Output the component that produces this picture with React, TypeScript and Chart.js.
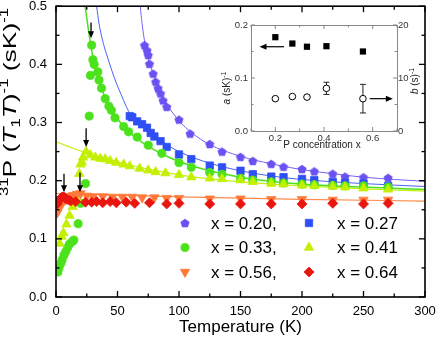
import React, { useEffect, useRef } from 'react';
import { Chart, registerables } from 'chart.js';
import { drawPoint } from 'chart.js/helpers';

Chart.register(...registerables);

const FONT = 'Arial, "Liberation Sans", Helvetica, sans-serif';

// ---------------- data ----------------
// x = 0.20 (pentagons)
const t020 = [72, 74, 75, 76, 79, 81, 83, 85, 87, 90, 100, 109, 125, 135, 150, 160, 175, 185, 200, 210, 225, 235, 250, 270];
const v020 = [0.433, 0.424, 0.416, 0.401, 0.384, 0.370, 0.359, 0.350, 0.338, 0.327, 0.305, 0.281, 0.263, 0.250, 0.241, 0.234, 0.229, 0.224, 0.220, 0.216, 0.212, 0.207, 0.206, 0.205];
// x = 0.27 (squares)
const t027 = [60, 62, 66, 70, 74, 77, 80, 85, 90, 100, 110, 125, 135, 150, 160, 175, 185, 200, 210, 225, 235, 250, 270];
const v027 = [0.311, 0.309, 0.302, 0.297, 0.291, 0.282, 0.276, 0.268, 0.258, 0.245, 0.237, 0.226, 0.223, 0.217, 0.211, 0.207, 0.206, 0.203, 0.201, 0.198, 0.196, 0.195, 0.191];
// x = 0.33 (circles)
const t033 = [1.5, 2.5, 4, 5, 6.5, 8, 9.5, 11, 13, 14.5, 18, 20, 24, 27, 28, 29, 30, 31, 34, 35, 37, 40, 43, 45, 48, 55, 59, 66, 75, 86, 100, 110, 125, 135, 150, 160, 175, 185, 200, 210, 225, 235, 250, 270];
const v033 = [0.043, 0.050, 0.058, 0.064, 0.072, 0.078, 0.085, 0.091, 0.095, 0.098, 0.126, 0.161, 0.195, 0.311, 0.381, 0.433, 0.408, 0.400, 0.387, 0.373, 0.359, 0.341, 0.328, 0.321, 0.308, 0.293, 0.284, 0.275, 0.261, 0.247, 0.231, 0.223, 0.214, 0.211, 0.204, 0.201, 0.198, 0.196, 0.194, 0.193, 0.192, 0.191, 0.191, 0.189];
// x = 0.41 (triangles)
const t041 = [3, 4.5, 6, 8.5, 11, 13.5, 16.5, 19, 20, 21, 22, 24.5, 28, 32, 36, 40, 44, 49, 55, 60, 68, 75, 81, 89, 100, 110, 125, 135, 150, 160, 175, 185, 200, 210, 225, 235, 250, 270];
const v041 = [0.092, 0.104, 0.110, 0.125, 0.140, 0.155, 0.170, 0.212, 0.228, 0.232, 0.240, 0.250, 0.244, 0.240, 0.238, 0.237, 0.234, 0.231, 0.228, 0.225, 0.221, 0.218, 0.215, 0.213, 0.210, 0.206, 0.204, 0.203, 0.201, 0.198, 0.195, 0.194, 0.192, 0.191, 0.190, 0.189, 0.187, 0.185];
// x = 0.56 (down triangles)
const t056 = [1, 2, 3, 4, 5, 6, 8, 10, 12, 14, 17, 20, 25, 30, 38, 46, 54, 62, 70, 80, 90, 100, 125, 150, 175, 200, 225, 250, 270];
const v056 = [0.145, 0.150, 0.155, 0.158, 0.162, 0.165, 0.168, 0.171, 0.173, 0.175, 0.177, 0.178, 0.174, 0.173, 0.173, 0.172, 0.172, 0.172, 0.171, 0.171, 0.170, 0.170, 0.169, 0.169, 0.168, 0.168, 0.167, 0.167, 0.167];
// x = 0.64 (diamonds)
const t064 = [1, 2, 3, 4, 5, 6, 7, 8, 10, 12, 16, 24, 29, 33, 38, 44, 49, 57, 64, 76, 90, 100, 125, 150, 175, 200, 225, 250, 270];
const v064 = [0.160, 0.165, 0.168, 0.170, 0.172, 0.172, 0.171, 0.169, 0.167, 0.165, 0.164, 0.163, 0.163, 0.164, 0.162, 0.164, 0.162, 0.163, 0.161, 0.162, 0.160, 0.161, 0.160, 0.160, 0.160, 0.160, 0.161, 0.160, 0.161];

// fit curves (sampled along the drawn lines)
const fitT020 = [68.5, 70, 72, 75, 80, 85, 90, 100, 110, 125, 150, 175, 200, 225, 250, 275, 300];
const fitV020 = [0.500, 0.470, 0.440, 0.410, 0.378, 0.352, 0.332, 0.303, 0.283, 0.262, 0.242, 0.229, 0.219, 0.212, 0.206, 0.202, 0.199];
const fitT027 = [33, 35, 38, 41, 45, 49, 53, 57, 60, 70, 80, 90, 100, 125, 150, 175, 200, 250, 300];
const fitV027 = [0.500, 0.470, 0.440, 0.418, 0.392, 0.368, 0.348, 0.328, 0.316, 0.294, 0.277, 0.262, 0.250, 0.230, 0.217, 0.208, 0.202, 0.195, 0.190];
const fitT033 = [23.6, 25, 26.5, 28, 30, 33, 36, 40, 45, 50, 60, 70, 80, 90, 100, 125, 150, 175, 200, 250, 300];
const fitV033 = [0.500, 0.480, 0.457, 0.437, 0.412, 0.385, 0.365, 0.343, 0.323, 0.306, 0.283, 0.266, 0.253, 0.242, 0.233, 0.217, 0.206, 0.199, 0.194, 0.189, 0.185];
const fitT041 = [0, 10, 20, 30, 40, 50, 60, 70, 80, 100, 125, 150, 175, 200, 250, 300];
const fitV041 = [0.267, 0.259, 0.251, 0.244, 0.238, 0.232, 0.227, 0.222, 0.218, 0.210, 0.203, 0.198, 0.194, 0.191, 0.186, 0.182];
const fitT056 = [0, 100, 200, 300];
const fitV056 = [0.178, 0.172, 0.168, 0.165];

// arrows marking transitions (T, from value, to value)
const arrowT = [28.5, 24.5, 6.5, 19.5];
const arrowFrom = [0.472, 0.290, 0.212, 0.214];
const arrowTo = [0.445, 0.258, 0.180, 0.180];

// axes
const xTickVals = [0, 50, 100, 150, 200, 250, 300];
const yTickVals = [0, 0.1, 0.2, 0.3, 0.4, 0.5];
const legendLabels = ['x = 0.20,', 'x = 0.27', 'x = 0.33,', 'x = 0.41', 'x = 0.56,', 'x = 0.64'];

// inset
const insetX = [0.20, 0.27, 0.33, 0.41, 0.56];
const insetA = [0.177, 0.165, 0.159, 0.160, 0.150];
const insetB = [6.1, 6.5, 6.4, 8.05, 6.1];
const insetBErr = [0, 0, 0, 1.15, 2.7];
const insetXTicks = [0.2, 0.4, 0.6];
const insetYTicks = [0, 0.1, 0.2];
const insetY2Ticks = [0, 10, 20];

// ---------------- styles ----------------
const C020 = '#6a52f2';
const C027 = '#2f4ff5';
const C033 = '#4be21c';
const C041 = '#c3ef00';
const C056 = '#ff7a3a';
const C064 = '#e8160f';

type Part = { t: string; k: 'n' | 'i' | 'sup' | 'sub' };

function drawRich(ctx: CanvasRenderingContext2D, parts: Part[], cx: number, cy: number, fs: number, ss: number, rotate: boolean, targetLen?: number, color = '#000') {
  ctx.save();
  ctx.translate(cx, cy);
  if (rotate) ctx.rotate(-Math.PI / 2);
  const fontFor = (k: Part['k']) => (k === 'i' ? `italic ${fs}px ${FONT}` : k === 'n' ? `${fs}px ${FONT}` : `${ss}px ${FONT}`);
  const widths = parts.map((p) => {
    ctx.font = fontFor(p.k);
    return ctx.measureText(p.t).width;
  });
  const total = widths.reduce((a, b) => a + b, 0);
  if (targetLen) ctx.scale(targetLen / total, 1);
  let x = -total / 2;
  ctx.fillStyle = color;
  ctx.textAlign = 'left';
  ctx.textBaseline = 'alphabetic';
  parts.forEach((p, i) => {
    ctx.font = fontFor(p.k);
    const dy = p.k === 'sup' ? -fs * 0.42 : p.k === 'sub' ? fs * 0.2 : 0;
    ctx.fillText(p.t, x, dy);
    x += widths[i];
  });
  ctx.restore();
}

function makePentagon(color: string, r: number) {
  const size = Math.ceil(r * 2 + 2);
  const c = document.createElement('canvas');
  c.width = size;
  c.height = size;
  const g = c.getContext('2d')!;
  g.fillStyle = color;
  g.beginPath();
  for (let i = 0; i < 5; i++) {
    const a = -Math.PI / 2 + (i * 2 * Math.PI) / 5;
    const px = size / 2 + r * Math.cos(a);
    const py = size / 2 + r * Math.sin(a) + r * 0.1;
    if (i === 0) g.moveTo(px, py);
    else g.lineTo(px, py);
  }
  g.closePath();
  g.fill();
  return c;
}

function midpoints(vals: number[]) {
  const out: number[] = [];
  for (let i = 0; i < vals.length - 1; i++) out.push((vals[i] + vals[i + 1]) / 2);
  return out;
}

function line(ctx: CanvasRenderingContext2D, x1: number, y1: number, x2: number, y2: number) {
  ctx.beginPath();
  ctx.moveTo(x1, y1);
  ctx.lineTo(x2, y2);
  ctx.stroke();
}

function arrowHead(ctx: CanvasRenderingContext2D, x: number, y: number, dx: number, dy: number, len: number, half: number) {
  const bx = x - dx * len;
  const by = y - dy * len;
  ctx.beginPath();
  ctx.moveTo(x, y);
  ctx.lineTo(bx - dy * half, by + dx * half);
  ctx.lineTo(bx + dy * half, by - dx * half);
  ctx.closePath();
  ctx.fill();
}

const pts = (ts: number[], vs: number[]) => ts.map((t, i) => ({ x: t, y: vs[i] }));

export default function App() {
  const mainRef = useRef<HTMLCanvasElement>(null);
  const insetRef = useRef<HTMLCanvasElement>(null);

  useEffect(() => {
    const pent = makePentagon(C020, 4.8);
    const series = [
      { label: legendLabels[0], t: t020, v: v020, color: C020, style: pent as any, radius: 5, rotation: 0, order: 5 },
      { label: legendLabels[1], t: t027, v: v027, color: C027, style: 'rect', radius: 5.2, rotation: 0, order: 4 },
      { label: legendLabels[2], t: t033, v: v033, color: C033, style: 'circle', radius: 4.1, rotation: 0, order: 3 },
      { label: legendLabels[3], t: t041, v: v041, color: C041, style: 'triangle', radius: 5.4, rotation: 0, order: 2 },
      { label: legendLabels[4], t: t056, v: v056, color: C056, style: 'triangle', radius: 5.4, rotation: 180, order: 1 },
      { label: legendLabels[5], t: t064, v: v064, color: C064, style: 'rectRot', radius: 5, rotation: 0, order: 0 },
    ];
    const fits = [
      { t: fitT020, v: fitV020, color: '#7564f4', w: 1 },
      { t: fitT027, v: fitV027, color: '#4863f3', w: 1 },
      { t: fitT033, v: fitV033, color: '#4ee01e', w: 1.5 },
      { t: fitT041, v: fitV041, color: '#c6ef10', w: 1.2 },
      { t: fitT056, v: fitV056, color: '#ff8a4a', w: 1.2 },
    ];

    const markerSets = series.map((s) => ({
      label: s.label,
      data: pts(s.t, s.v),
      showLine: false,
      pointStyle: s.style,
      pointRadius: s.radius,
      pointRotation: s.rotation,
      backgroundColor: s.color,
      borderColor: s.color,
      borderWidth: 0.8,
      order: s.order,
    }));
    const fitSets = fits.map((f) => ({
      data: pts(f.t, f.v),
      showLine: true,
      pointRadius: 0,
      borderColor: f.color,
      borderWidth: f.w,
      backgroundColor: f.color,
      fill: false,
      cubicInterpolationMode: 'monotone' as const,
      order: 10,
    }));

    const mainPlugin = {
      id: 'mainDecor',
      afterDatasetsDraw(chart: any) {
        const { ctx, scales } = chart;
        ctx.save();
        ctx.strokeStyle = '#000';
        ctx.fillStyle = '#000';
        ctx.lineWidth = 1.3;
        arrowT.forEach((t, i) => {
          const px = scales.x.getPixelForValue(t);
          const y1 = scales.y.getPixelForValue(arrowFrom[i]);
          const y2 = scales.y.getPixelForValue(arrowTo[i]);
          line(ctx, px, y1, px, y2 - 5);
          arrowHead(ctx, px, y2, 0, 1, 7, 3);
        });
        ctx.restore();
      },
      afterDraw(chart: any) {
        const { ctx, chartArea, scales } = chart;
        const { left, right, top, bottom } = chartArea;
        ctx.save();
        ctx.strokeStyle = '#000';
        ctx.lineWidth = 1.3;
        xTickVals.forEach((t) => {
          const px = scales.x.getPixelForValue(t);
          line(ctx, px, bottom, px, bottom - 6);
          line(ctx, px, top, px, top + 6);
        });
        midpoints(xTickVals).forEach((t) => {
          const px = scales.x.getPixelForValue(t);
          line(ctx, px, bottom, px, bottom - 3.5);
          line(ctx, px, top, px, top + 3.5);
        });
        yTickVals.forEach((v) => {
          const py = scales.y.getPixelForValue(v);
          line(ctx, left, py, left + 6, py);
          line(ctx, right, py, right - 6, py);
        });
        midpoints(yTickVals).forEach((v) => {
          const py = scales.y.getPixelForValue(v);
          line(ctx, left, py, left + 3.5, py);
          line(ctx, right, py, right - 3.5, py);
        });
        ctx.lineWidth = 1.6;
        ctx.strokeRect(left, top, right - left, bottom - top);

        // legend (2 columns x 3 rows)
        const colMarkerX = [185, 309];
        const colTextX = [211, 337];
        const rowY = [223, 247.5, 272];
        series.forEach((s, i) => {
          const col = i % 2;
          const row = Math.floor(i / 2);
          ctx.fillStyle = s.color;
          ctx.strokeStyle = s.color;
          ctx.lineWidth = 0.8;
          drawPoint(ctx, { pointStyle: s.style, rotation: s.rotation, radius: s.radius, borderWidth: 0.8 } as any, colMarkerX[col], rowY[row]);
          ctx.fillStyle = '#000';
          ctx.font = `17px ${FONT}`;
          ctx.textAlign = 'left';
          ctx.textBaseline = 'middle';
          ctx.fillText(s.label, colTextX[col], rowY[row] + 1);
        });

        // y-axis title
        drawRich(
          ctx,
          [
            { t: '31', k: 'sup' },
            { t: 'P (', k: 'n' },
            { t: 'T', k: 'i' },
            { t: '1', k: 'sub' },
            { t: 'T', k: 'i' },
            { t: ')', k: 'n' },
            { t: '-1', k: 'sup' },
            { t: ' (sK)', k: 'n' },
            { t: '-1', k: 'sup' },
          ],
          16,
          102,
          19,
          12,
          true,
          188
        );
        ctx.restore();
      },
    };

    const tickFont = { family: FONT, size: 13 };
    const main = new Chart(mainRef.current!, {
      type: 'scatter',
      data: { datasets: [...markerSets, ...fitSets] as any },
      options: {
        animation: false,
        responsive: false,
        devicePixelRatio: 1,
        layout: { padding: { top: 6, right: 11, left: 0, bottom: 0 } },
        plugins: { legend: { display: false }, tooltip: { enabled: false } },
        scales: {
          x: {
            type: 'linear',
            min: 0,
            max: 300,
            afterBuildTicks: (s: any) => {
              s.ticks = xTickVals.map((v) => ({ value: v }));
            },
            afterFit: (s: any) => {
              s.height = 41;
              s.paddingLeft = 0;
              s.paddingRight = 0;
            },
            grid: { display: false, drawTicks: false },
            border: { display: false },
            ticks: { font: tickFont, color: '#000', padding: 7, maxRotation: 0, autoSkip: false, callback: (v: any) => String(v) },
            title: { display: true, text: 'Temperature (K)', font: { family: FONT, size: 17 }, color: '#000', padding: { top: 0, bottom: 0 } },
          },
          y: {
            type: 'linear',
            min: 0,
            max: 0.5,
            afterBuildTicks: (s: any) => {
              s.ticks = yTickVals.map((v) => ({ value: v }));
            },
            afterFit: (s: any) => {
              s.width = 56;
              s.paddingTop = 0;
              s.paddingBottom = 0;
            },
            grid: { display: false, drawTicks: false },
            border: { display: false },
            ticks: { font: tickFont, color: '#000', padding: 9, callback: (v: any) => Number(v).toFixed(1) },
          },
        },
      },
      plugins: [mainPlugin],
    });

    // ---------------- inset ----------------
    const insetPlugin = {
      id: 'insetDecor',
      beforeDatasetsDraw(chart: any) {
        const { ctx, chartArea, scales } = chart;
        ctx.save();
        ctx.fillStyle = '#fff';
        ctx.fillRect(chartArea.left, chartArea.top, chartArea.right - chartArea.left, chartArea.bottom - chartArea.top);
        ctx.strokeStyle = '#222';
        ctx.lineWidth = 1;
        insetX.forEach((x, i) => {
          if (!insetBErr[i]) return;
          const px = scales.x.getPixelForValue(x);
          const y1 = scales.y2.getPixelForValue(insetB[i] - insetBErr[i]);
          const y2 = scales.y2.getPixelForValue(insetB[i] + insetBErr[i]);
          line(ctx, px, y1, px, y2);
          line(ctx, px - 3, y1, px + 3, y1);
          line(ctx, px - 3, y2, px + 3, y2);
        });
        ctx.restore();
      },
      afterDraw(chart: any) {
        const { ctx, chartArea, scales } = chart;
        const { left, right, top, bottom } = chartArea;
        ctx.save();
        ctx.strokeStyle = '#888';
        ctx.lineWidth = 1;
        const xt = [0.1, 0.2, 0.3, 0.4, 0.5, 0.6, 0.7];
        xt.forEach((v) => {
          const px = scales.x.getPixelForValue(v);
          const len = insetXTicks.some((k) => Math.abs(k - v) < 1e-9) ? 4 : 2.5;
          line(ctx, px, bottom, px, bottom - len);
          line(ctx, px, top, px, top + len);
        });
        insetYTicks.forEach((v) => {
          const py = scales.y.getPixelForValue(v);
          line(ctx, left, py, left + 4, py);
        });
        midpoints(insetYTicks).forEach((v) => {
          const py = scales.y.getPixelForValue(v);
          line(ctx, left, py, left + 2.5, py);
        });
        insetY2Ticks.forEach((v) => {
          const py = scales.y2.getPixelForValue(v);
          line(ctx, right, py, right - 4, py);
        });
        midpoints(insetY2Ticks).forEach((v) => {
          const py = scales.y2.getPixelForValue(v);
          line(ctx, right, py, right - 2.5, py);
        });
        ctx.strokeRect(left + 0.5, top + 0.5, right - left, bottom - top);

        // arrows pointing to the axes
        ctx.strokeStyle = '#000';
        ctx.fillStyle = '#000';
        ctx.lineWidth = 1.2;
        const ay = scales.y.getPixelForValue(insetA[2]);
        const ax1 = scales.x.getPixelForValue(0.236);
        const ax2 = scales.x.getPixelForValue(0.135);
        line(ctx, ax1, ay, ax2 + 5, ay);
        arrowHead(ctx, ax2, ay, -1, 0, 7, 3);
        const by = scales.y2.getPixelForValue(insetB[4]);
        const bx1 = scales.x.getPixelForValue(0.588);
        const bx2 = scales.x.getPixelForValue(0.683);
        line(ctx, bx1, by, bx2 - 5, by);
        arrowHead(ctx, bx2, by, 1, 0, 7, 3);

        drawRich(ctx, [{ t: 'a', k: 'i' }, { t: ' (sK)', k: 'n' }, { t: '-1', k: 'sup' }], 15, 73, 10, 7, true, undefined, '#222');
        drawRich(ctx, [{ t: 'b', k: 'i' }, { t: ' (s)', k: 'n' }, { t: '-1', k: 'sup' }], 203, 66, 10, 7, true, undefined, '#222');
        ctx.fillStyle = '#222';
        ctx.font = `10px ${FONT}`;
        ctx.textAlign = 'center';
        ctx.textBaseline = 'middle';
        ctx.fillText('P concentration x', (left + right) / 2 - 2, 130);
        ctx.restore();
      },
    };

    const insetTickFont = { family: FONT, size: 9.5 };
    const inset = new Chart(insetRef.current!, {
      type: 'scatter',
      data: {
        datasets: [
          { data: pts(insetX, insetA), yAxisID: 'y', pointStyle: 'rect', pointRadius: 4.4, backgroundColor: '#000', borderColor: '#000', borderWidth: 0 },
          { data: pts(insetX, insetB), yAxisID: 'y2', pointStyle: 'circle', pointRadius: 3.3, backgroundColor: '#fff', borderColor: '#000', borderWidth: 1 },
        ] as any,
      },
      options: {
        animation: false,
        responsive: false,
        devicePixelRatio: 1,
        layout: { padding: { top: 10, left: 0, right: 0, bottom: 0 } },
        plugins: { legend: { display: false }, tooltip: { enabled: false } },
        scales: {
          x: {
            type: 'linear',
            min: 0.1,
            max: 0.7,
            afterBuildTicks: (s: any) => {
              s.ticks = insetXTicks.map((v) => ({ value: v }));
            },
            afterFit: (s: any) => {
              s.height = 24;
              s.paddingLeft = 0;
              s.paddingRight = 0;
            },
            grid: { display: false, drawTicks: false },
            border: { display: false },
            ticks: { font: insetTickFont, color: '#333', padding: 2, maxRotation: 0, autoSkip: false, callback: (v: any) => Number(v).toFixed(1) },
          },
          y: {
            type: 'linear',
            position: 'left',
            min: 0,
            max: 0.2,
            afterBuildTicks: (s: any) => {
              s.ticks = insetYTicks.map((v) => ({ value: v }));
            },
            afterFit: (s: any) => {
              s.width = 36;
              s.paddingTop = 0;
              s.paddingBottom = 0;
            },
            grid: { display: false, drawTicks: false },
            border: { display: false },
            ticks: { font: insetTickFont, color: '#333', padding: 3, callback: (v: any) => Number(v).toFixed(1) },
          },
          y2: {
            type: 'linear',
            position: 'right',
            min: 0,
            max: 20,
            afterBuildTicks: (s: any) => {
              s.ticks = insetY2Ticks.map((v) => ({ value: v }));
            },
            afterFit: (s: any) => {
              s.width = 28;
              s.paddingTop = 0;
              s.paddingBottom = 0;
            },
            grid: { display: false, drawTicks: false },
            border: { display: false },
            ticks: { font: insetTickFont, color: '#333', padding: 1, callback: (v: any) => String(v) },
          },
        },
      },
      plugins: [insetPlugin],
    });

    return () => {
      main.destroy();
      inset.destroy();
    };
  }, []);

  return (
    <div style={{ position: 'absolute', left: 0, top: 0, width: 436, height: 338, background: '#fff' }}>
      <canvas ref={mainRef} width={436} height={338} style={{ position: 'absolute', left: 0, top: 0 }} />
      <canvas ref={insetRef} width={210} height={140} style={{ position: 'absolute', left: 215, top: 15 }} />
    </div>
  );
}
